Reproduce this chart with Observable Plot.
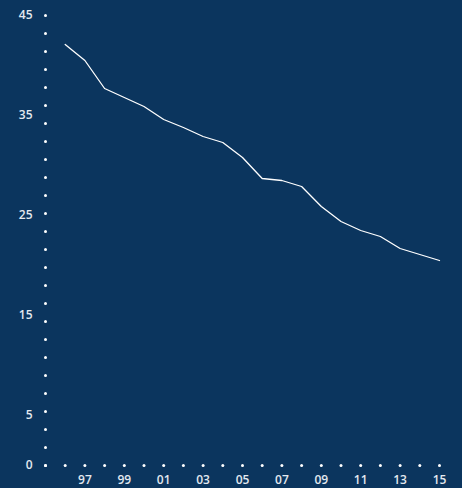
<!DOCTYPE html>
<html><head><meta charset="utf-8">
<script src="https://cdn.jsdelivr.net/npm/d3@7"></script>
<script src="https://cdn.jsdelivr.net/npm/@observablehq/plot@0.6"></script>
<style>
html,body{margin:0;padding:0;background:#0b355e;}
#chart svg{display:block;}
</style>
</head><body><div id="chart"></div>
<script>
const years = [1996,1997,1998,1999,2000,2001,2002,2003,2004,2005,2006,2007,2008,2009,2010,2011,2012,2013,2014,2015];
const values = [42.1,40.5,37.7,36.8,35.9,34.6,33.8,32.9,32.3,30.8,28.7,28.5,27.9,25.9,24.4,23.5,22.9,21.7,21.1,20.5];
const xTickYears = [1997,1999,2001,2003,2005,2007,2009,2011,2013,2015];
const yTickLabels = [0,5,15,25,35,45];
const xDotYears = [1995,1996,1997,1998,1999,2000,2001,2002,2003,2004,2005,2006,2007,2008,2009,2010,2011,2012,2013,2014,2015];
const yDotValues = [0,1.8,3.6,5.4,7.2,9,10.8,12.6,14.4,16.2,18,19.8,21.6,23.4,25.2,27,28.8,30.6,32.4,34.2,36,37.8,39.6,41.4,43.2,45];

const data = years.map((y,i)=>({year:y, value:values[i]}));
const txt = "#e3e9f0";

const chart = Plot.plot({
  width: 462, height: 488,
  marginLeft: 45, marginRight: 23, marginTop: 15, marginBottom: 23,
  style: {background:"#0b355e", color: txt, fontFamily:"'Open Sans', sans-serif", fontSize:"12px", fontWeight:600},
  x: {domain:[1995,2015], axis:null},
  y: {domain:[0,45], axis:null},
  marks: [
    Plot.dot(xDotYears, {x: d=>d, y: 0, r: 1.5, fill: "white", stroke: null}),
    Plot.dot(yDotValues, {x: 1995, y: d=>d, r: 1.5, fill: "white", stroke: null}),
    Plot.text(xTickYears, {x: d=>d, y: 0, text: d=>String(d).slice(2), dy: 15, fill: txt, fontSize: 12, fontWeight: 600}),
    Plot.text(yTickLabels, {x: 1995, y: d=>d, text: d=>String(d), dx: -13, textAnchor:"end", fill: txt, fontSize: 12, fontWeight: 600}),
    Plot.line(data, {x:"year", y:"value", stroke:"white", strokeWidth:1.3})
  ]
});
document.getElementById("chart").append(chart);
</script>
</body></html>
